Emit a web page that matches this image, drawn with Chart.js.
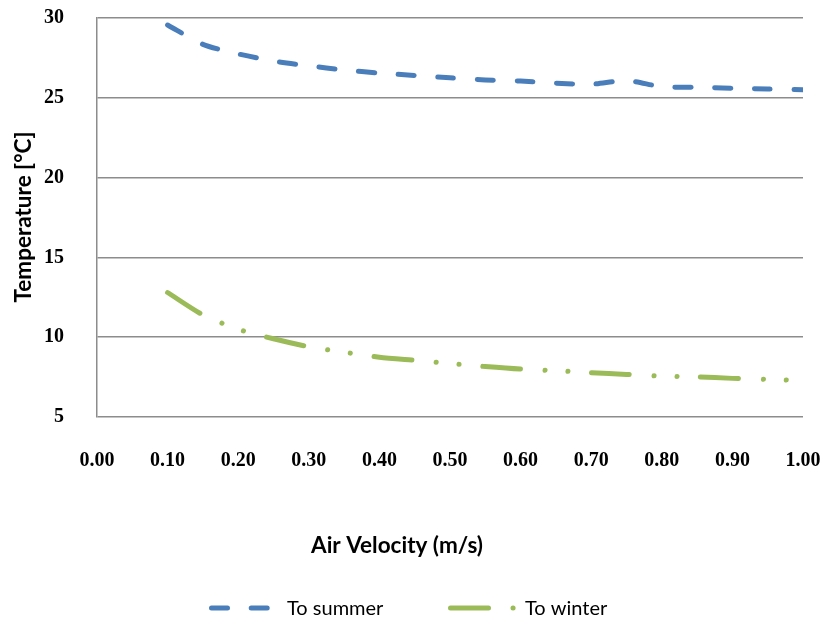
<!DOCTYPE html>
<html>
<head>
<meta charset="utf-8">
<script src="https://cdn.jsdelivr.net/npm/chart.js@4.4.1/dist/chart.umd.min.js"></script>
<style>
  html, body { margin: 0; padding: 0; background: #fff; }
</style>
</head>
<body>
<canvas id="chart" width="824" height="621"></canvas>
<script>
// air velocity (m/s) and the resulting temperatures (°C)
const velocity = [0.10, 0.15, 0.20, 0.25, 0.30, 0.35, 0.40, 0.45, 0.50, 0.55,
                  0.60, 0.65, 0.70, 0.75, 0.80, 0.85, 0.90, 0.95, 1.00];
const toSummer = [29.56, 28.35, 27.75, 27.3, 27.0, 26.75, 26.55, 26.4, 26.25, 26.12,
                  26.05, 25.92, 25.85, 26.08, 25.7, 25.65, 25.6, 25.55, 25.5];
const toWinter = [12.8, 11.4, 10.5, 9.9, 9.4, 9.06, 8.75, 8.55, 8.35, 8.16,
                  8.0, 7.9, 7.78, 7.67, 7.56, 7.52, 7.42, 7.36, 7.28];
const seriesNames = ['To summer', 'To winter'];
const xTitle = 'Air Velocity (m/s)';
const yTitle = 'Temperature [°C]';

const BLUE = '#4a7ebb';
const GREEN = '#9bbb59';
const GRID = '#8c8c8c';
const tickFont = { family: '"Liberation Serif", "Times New Roman", serif', size: 20, weight: 'bold' };
const titleFont = 'bold 22.5px Lato, "Open Sans", sans-serif';
const legendFont = '20px Lato, "Open Sans", sans-serif';

function toPoints(ys) {
    return velocity.map((v, i) => ({ x: v, y: ys[i] }));
}

// axis titles and the legend row are drawn by hand under the plot
const extraLabels = {
    id: 'extraLabels',
    afterDraw(chart) {
        const ctx = chart.ctx;
        ctx.save();
        ctx.fillStyle = '#000';
        ctx.textBaseline = 'middle';

        // y title
        ctx.font = titleFont;
        ctx.save();
        ctx.translate(24, 217);
        ctx.rotate(-Math.PI / 2);
        ctx.textAlign = 'center';
        ctx.fillText(yTitle, 0, 0);
        ctx.restore();

        // x title
        ctx.textAlign = 'center';
        ctx.fillText(xTitle, 397, 546);

        // legend
        const items = [
            { x0: 209, x1: 272, tx: 287 },
            { x0: 448, x1: 517, tx: 525 }
        ];
        ctx.font = legendFont;
        ctx.textAlign = 'left';
        chart.data.datasets.forEach((ds, i) => {
            const it = items[i];
            ctx.save();
            ctx.strokeStyle = ds.borderColor;
            ctx.lineWidth = ds.borderWidth;
            ctx.lineCap = 'round';
            ctx.setLineDash(ds.borderDash);
            ctx.beginPath();
            ctx.moveTo(it.x0 + 2.5, 608);
            ctx.lineTo(it.x1, 608);
            ctx.stroke();
            ctx.restore();
            ctx.fillText(ds.label, it.tx, 609);
        });
        ctx.restore();
    }
};

new Chart(document.getElementById('chart'), {
    type: 'line',
    data: {
        datasets: [
            {
                label: seriesNames[0],
                data: toPoints(toSummer),
                borderColor: BLUE,
                borderWidth: 5,
                borderDash: [16, 23.7],
                borderCapStyle: 'round',
                pointRadius: 0,
                tension: 0.25,
                fill: false
            },
            {
                label: seriesNames[1],
                data: toPoints(toWinter),
                borderColor: GREEN,
                borderWidth: 5,
                borderDash: [38, 24.5, 0.1, 23, 0.1, 23.5],
                borderCapStyle: 'round',
                pointRadius: 0,
                tension: 0.25,
                fill: false
            }
        ]
    },
    options: {
        responsive: false,
        animation: false,
        devicePixelRatio: 1,
        layout: { padding: { top: 18, right: 21, left: 0, bottom: 0 } },
        plugins: {
            legend: { display: false },
            tooltip: { enabled: false }
        },
        scales: {
            x: {
                type: 'linear',
                min: 0,
                max: 1,
                ticks: {
                    stepSize: 0.1,
                    color: '#000',
                    font: tickFont,
                    padding: 32,
                    maxRotation: 0,
                    callback: v => v.toFixed(2)
                },
                grid: { display: false, drawTicks: false },
                border: { display: false },
                afterFit: s => {
                    s.height = 204;
                    s.paddingLeft = 0;
                    s.paddingRight = 0;
                }
            },
            y: {
                min: 5,
                max: 30,
                ticks: {
                    stepSize: 5,
                    color: '#000',
                    font: tickFont,
                    padding: 33
                },
                grid: { color: GRID, lineWidth: 1.5, drawTicks: false },
                border: { display: true, color: GRID, width: 1.5 },
                afterFit: s => {
                    s.width = 97;
                    s.paddingTop = 0;
                    s.paddingBottom = 0;
                }
            }
        }
    },
    plugins: [extraLabels]
});
</script>
</body>
</html>
